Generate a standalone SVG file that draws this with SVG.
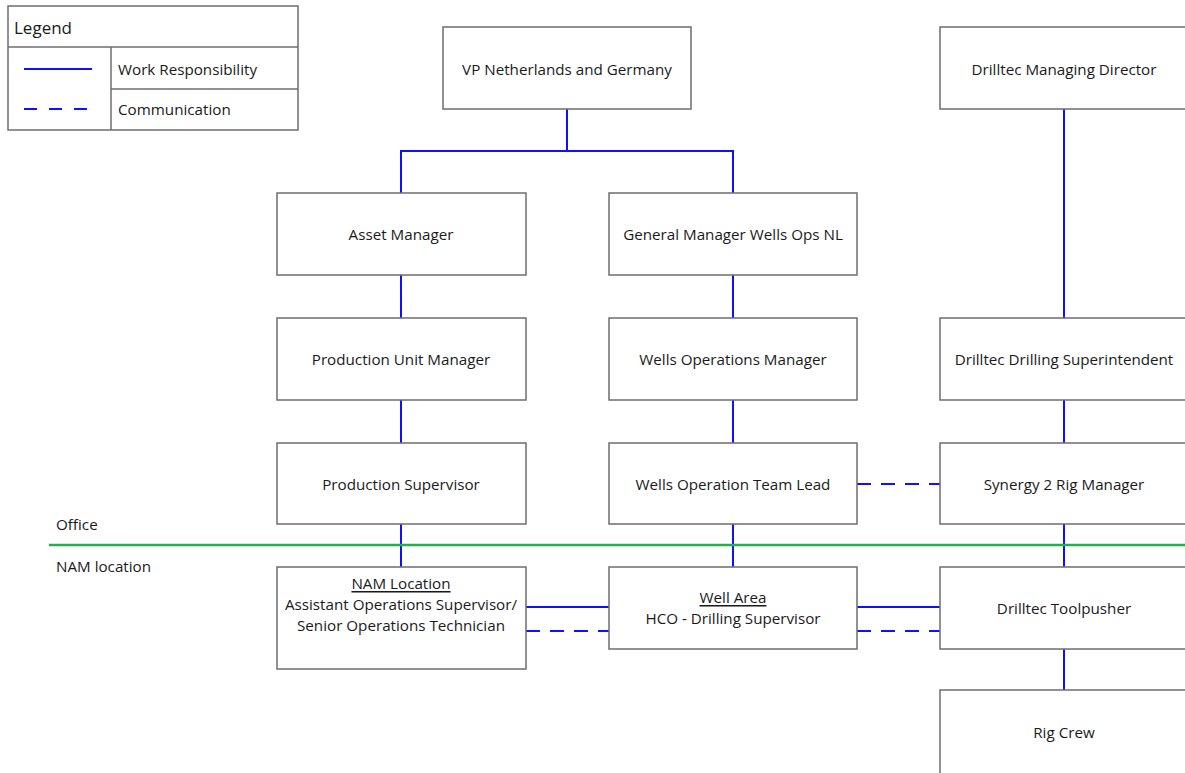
<svg xmlns="http://www.w3.org/2000/svg" width="1185" height="773" viewBox="0 0 1185 773">
<style>
.box{fill:#fff;stroke:#6e6e6e;stroke-width:1.5}
.t{font-family:"Open Sans","Liberation Sans",sans-serif;font-size:15.2px;fill:#1a1a1a;text-anchor:middle;dominant-baseline:central}
.l{font-family:"Open Sans","Liberation Sans",sans-serif;font-size:15.2px;fill:#1a1a1a;dominant-baseline:central}
.w{stroke:#1010ff;stroke-width:2;fill:none}
.c{stroke:#1010ff;stroke-width:2;fill:none;stroke-dasharray:14,10}
</style>
<rect width="1185" height="773" fill="#fff"/>
<g id="legend">
<rect x="8" y="6" width="290" height="124" fill="#fff" stroke="#6e6e6e" stroke-width="1.5"/>
<line x1="8" y1="47" x2="298" y2="47" stroke="#6e6e6e" stroke-width="1.5"/>
<line x1="111" y1="47" x2="111" y2="130" stroke="#6e6e6e" stroke-width="1.5"/>
<line x1="111" y1="89" x2="298" y2="89" stroke="#6e6e6e" stroke-width="1.5"/>
<text class="l" x="14" y="27" style="font-size:17px">Legend</text>
<line class="w" x1="24" y1="69" x2="92" y2="69"/>
<line class="c" x1="24" y1="109" x2="92" y2="109" style="stroke-dasharray:13,12"/>
<text class="l" x="118" y="69">Work Responsibility</text>
<text class="l" x="118" y="109">Communication</text>
</g>
<g id="connectors">
<polyline class="w" points="567,109 567,151"/>
<polyline class="w" points="401,193 401,151 733,151 733,193"/>
<line class="w" x1="1064" y1="109" x2="1064" y2="318"/>
<line class="w" x1="401" y1="275" x2="401" y2="318"/>
<line class="w" x1="733" y1="275" x2="733" y2="318"/>
<line class="w" x1="401" y1="400" x2="401" y2="443"/>
<line class="w" x1="733" y1="400" x2="733" y2="443"/>
<line class="w" x1="1064" y1="400" x2="1064" y2="443"/>
<line class="w" x1="401" y1="524" x2="401" y2="567"/>
<line class="w" x1="733" y1="524" x2="733" y2="567"/>
<line class="w" x1="1064" y1="524" x2="1064" y2="567"/>
<line class="w" x1="1064" y1="649" x2="1064" y2="690"/>
<line class="c" x1="857" y1="484" x2="940" y2="484"/>
<line class="w" x1="526" y1="607" x2="609" y2="607"/>
<line class="c" x1="526" y1="631" x2="609" y2="631"/>
<line class="w" x1="857" y1="607" x2="940" y2="607"/>
<line class="c" x1="857" y1="631" x2="940" y2="631"/>
</g>
<g id="boundary">
<line x1="49" y1="545" x2="1185" y2="545" stroke="#22b04b" stroke-width="2.5"/>
<text class="l" x="56" y="524">Office</text>
<text class="l" x="56" y="566">NAM location</text>
</g>
<g id="vp"><rect class="box" x="443" y="27" width="248" height="82"/><text class="t" x="567" y="69">VP Netherlands and Germany</text></g>
<g id="md"><rect class="box" x="940" y="27" width="250" height="82"/><text class="t" x="1064" y="69">Drilltec Managing Director</text></g>
<g id="asset"><rect class="box" x="277" y="193" width="249" height="82"/><text class="t" x="401" y="234">Asset Manager</text></g>
<g id="gm"><rect class="box" x="609" y="193" width="248" height="82"/><text class="t" x="733" y="234">General Manager Wells Ops NL</text></g>
<g id="pum"><rect class="box" x="277" y="318" width="249" height="82"/><text class="t" x="401" y="359">Production Unit Manager</text></g>
<g id="wom"><rect class="box" x="609" y="318" width="248" height="82"/><text class="t" x="733" y="359">Wells Operations Manager</text></g>
<g id="dds"><rect class="box" x="940" y="318" width="250" height="82"/><text class="t" x="1064" y="359">Drilltec Drilling Superintendent</text></g>
<g id="ps"><rect class="box" x="277" y="443" width="249" height="81"/><text class="t" x="401" y="484">Production Supervisor</text></g>
<g id="wotl"><rect class="box" x="609" y="443" width="248" height="81"/><text class="t" x="733" y="484">Wells Operation Team Lead</text></g>
<g id="s2"><rect class="box" x="940" y="443" width="250" height="81"/><text class="t" x="1064" y="484">Synergy 2 Rig Manager</text></g>
<g id="nam"><rect class="box" x="277" y="567" width="249" height="102"/>
<text class="t" x="401" y="583" text-decoration="underline">NAM Location</text>
<text class="t" x="401" y="604">Assistant Operations Supervisor/</text>
<text class="t" x="401" y="625">Senior Operations Technician</text></g>
<g id="well"><rect class="box" x="609" y="567" width="248" height="82"/>
<text class="t" x="733" y="597" text-decoration="underline">Well Area</text>
<text class="t" x="733" y="618">HCO - Drilling Supervisor</text></g>
<g id="tp"><rect class="box" x="940" y="567" width="250" height="82"/><text class="t" x="1064" y="608">Drilltec Toolpusher</text></g>
<g id="crew"><rect class="box" x="940" y="690" width="250" height="90"/><text class="t" x="1064" y="732">Rig Crew</text></g>
</svg>
